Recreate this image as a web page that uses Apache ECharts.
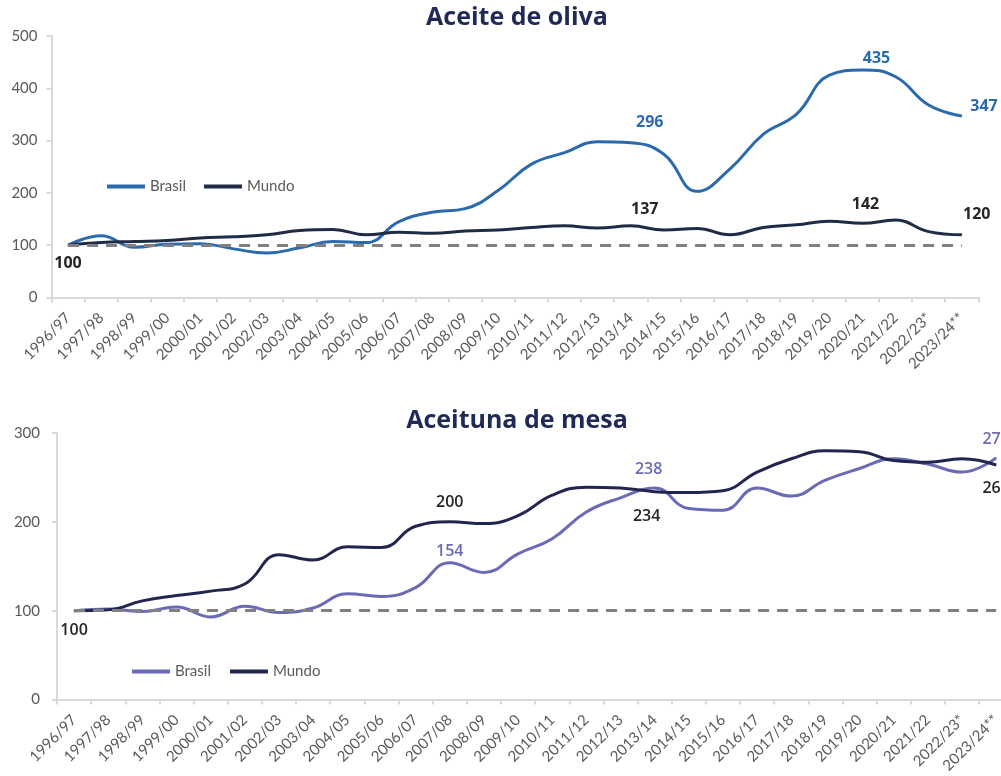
<!DOCTYPE html>
<html>
<head>
<meta charset="utf-8">
<title>Aceite de oliva / Aceituna de mesa</title>
<script src="https://cdn.jsdelivr.net/npm/echarts@6/dist/echarts.min.js"></script>
<style>
html, body { margin: 0; padding: 0; background: #fff; }
#main { width: 1001px; height: 776px; }
</style>
</head>
<body>
<div id="main"></div>
<script>
//campañas (eje x)
var campanas = ['1996/97', '1997/98', '1998/99', '1999/00', '2000/01', '2001/02', '2002/03', '2003/04',
	'2004/05', '2005/06', '2006/07', '2007/08', '2008/09', '2009/10', '2010/11', '2011/12', '2012/13',
	'2013/14', '2014/15', '2015/16', '2016/17', '2017/18', '2018/19', '2019/20', '2020/21', '2021/22',
	'2022/23*', '2023/24**'];
//aceite de oliva, índice base 100
var aceite_brasil = [100, 118, 96, 102, 103, 93, 85, 95, 107, 105, 145, 163, 170, 205, 255, 277, 298, 296,
	274, 203, 246, 312, 350, 425, 435, 422, 368, 347];
var aceite_mundo = [100, 105, 107, 109, 114, 116, 120, 128, 130, 120, 125, 123, 127, 129, 134, 137, 133, 137,
	129, 132, 120, 134, 139, 146, 142, 148, 126, 120];
//aceituna de mesa, índice base 100
var mesa_brasil = [100, 102, 99, 104, 93, 105, 98, 103, 119, 116, 126, 154, 143, 164, 181, 211, 227, 238,
	215, 213, 238, 229, 247, 260, 271, 265, 256, 272];
var mesa_mundo = [100, 101, 111, 117, 122, 130, 163, 157, 172, 171, 195, 200, 198, 207, 230, 239, 238, 234,
	233, 235, 256, 271, 280, 279, 269, 267, 271, 264];
//ejes y
var aceite_ticks = [0, 100, 200, 300, 400, 500];
var mesa_ticks = [0, 100, 200, 300];
var base = 100;

var font_axis = 'Lato, "Liberation Sans", sans-serif';
var font_label = '"Open Sans", "DejaVu Sans", sans-serif';

//etiquetas de datos: índice -> estilo
function with_labels(values, labels) {
	return values.map(function (v, i) {
		if (!labels[i]) return v;
		return { value: v, label: Object.assign({ show: true }, labels[i]) };
	});
}
function lbl(color, weight, position, distance, offset) {
	return {
		position: position, distance: distance, offset: offset || [0, 0],
		color: color, fontSize: 16, fontWeight: weight, fontFamily: font_label
	};
}

function x_axis(grid) {
	return {
		type: 'category', gridIndex: grid, data: campanas, boundaryGap: true,
		axisLine: { lineStyle: { color: '#d9d9d9', width: 2 } },
		axisTick: { show: true, length: 5, lineStyle: { color: '#d9d9d9', width: 2 } },
		axisLabel: { rotate: 45, interval: 0, margin: 18, color: '#595959', fontSize: 15, fontFamily: font_axis },
		splitLine: { show: false }
	};
}
function y_axis(grid, ticks, margin) {
	return {
		type: 'value', gridIndex: grid, min: ticks[0], max: ticks[ticks.length - 1],
		interval: ticks[1] - ticks[0],
		axisLine: { show: true, lineStyle: { color: '#d9d9d9', width: 2 } },
		axisTick: { show: true, length: 5, lineStyle: { color: '#d9d9d9', width: 2 } },
		axisLabel: { margin: margin, color: '#595959', fontSize: 15, fontFamily: font_axis },
		splitLine: { show: false }
	};
}
function base_line() {
	return {
		silent: true, symbol: ['none', 'none'], label: { show: false },
		lineStyle: { color: '#808080', width: 3, type: [11, 8] },
		data: [[{ coord: [campanas[0], base] }, { coord: [campanas[campanas.length - 1], base] }]]
	};
}
function line_series(name, xi, data, color, withBase) {
	var s = {
		name: name, type: 'line', xAxisIndex: xi, yAxisIndex: xi, data: data,
		smooth: 0.45, symbol: 'circle', symbolSize: 1, showSymbol: true,
		lineStyle: { color: color, width: 3 },
		itemStyle: { color: color }, z: 3
	};
	if (withBase) { s.markLine = base_line(); }
	return s;
}

var blue = '#2a6aad', navy_top = '#1e2c46', lila = '#6a6ab6', navy_bot = '#22264f';
var dark_lbl = '#262626';

var chart = echarts.init(document.getElementById('main'));
var option = {
	animation: false,
	backgroundColor: '#fff',
	title: [
		{ text: 'Aceite de oliva', left: 517, top: 5, padding: 0, textAlign: 'center',
			textStyle: { color: '#1f2a56', fontSize: 25, fontWeight: 'bold', fontFamily: font_label } },
		{ text: 'Aceituna de mesa', left: 517, top: 408, padding: 0, textAlign: 'center',
			textStyle: { color: '#1f2a56', fontSize: 25, fontWeight: 'bold', fontFamily: font_label } }
	],
	legend: [
		{ data: ['Brasil', 'Mundo'], left: 102, top: 174, icon: 'rect', itemWidth: 38, itemHeight: 4, itemGap: 18,
			textStyle: { color: '#595959', fontSize: 15, fontFamily: font_axis } },
		{ data: ['Brasil (mesa)', 'Mundo (mesa)'], left: 127, top: 659, icon: 'rect', itemWidth: 38, itemHeight: 4, itemGap: 19,
			formatter: function (n) { return n.split(' (')[0]; },
			textStyle: { color: '#595959', fontSize: 15, fontFamily: font_axis } }
	],
	grid: [
		{ left: 51.5, width: 926.8, top: 36, bottom: 478.5, containLabel: false, outerBoundsMode: 'none' },
		//el gráfico de abajo se corta por la derecha, como en el original
		{ left: 57, width: 956.2, top: 433, bottom: 76.5, containLabel: false, outerBoundsMode: 'none' }
	],
	xAxis: [x_axis(0), x_axis(1)],
	yAxis: [y_axis(0, aceite_ticks, 14), y_axis(1, mesa_ticks, 17)],
	series: [
		line_series('Brasil', 0, with_labels(aceite_brasil, {
			17: lbl(blue, 'bold', 'top', 12, [19, 0]),
			24: lbl(blue, 'bold', 'top', 3, [14, 0]),
			27: lbl(blue, 'bold', 'right', 8, [0, -10])
		}), blue, true),
		line_series('Mundo', 0, with_labels(aceite_mundo, {
			0: lbl(dark_lbl, 'bold', 'bottom', 10),
			17: lbl(dark_lbl, 'bold', 'top', 8, [14, 0]),
			24: lbl(dark_lbl, 'bold', 'top', 10, [3, 0]),
			27: lbl(dark_lbl, 'bold', 'top', 12, [15, 0])
		}), navy_top, false),
		line_series('Brasil (mesa)', 1, with_labels(mesa_brasil, {
			11: lbl(lila, 600, 'top', 3),
			17: lbl(lila, 600, 'top', 10, [-6, 0]),
			27: lbl(lila, 600, 'top', 10)
		}), lila, true),
		line_series('Mundo (mesa)', 1, with_labels(mesa_mundo, {
			0: lbl(dark_lbl, 600, 'bottom', 11),
			11: lbl(dark_lbl, 600, 'top', 11),
			17: lbl(dark_lbl, 600, 'bottom', 16, [-8, 0]),
			27: lbl(dark_lbl, 600, 'bottom', 15)
		}), navy_bot, false)
	]
};
chart.setOption(option);
</script>
</body>
</html>
